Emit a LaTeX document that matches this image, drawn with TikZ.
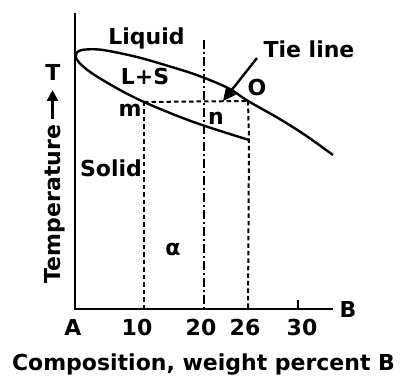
\documentclass[tikz,border=0pt]{standalone}
\usepackage{fontspec}
\setmainfont{DejaVu Sans}
\usetikzlibrary{arrows.meta}
\begin{document}
\begin{tikzpicture}[x=1pt,y=-1pt,
  lbl/.style={anchor=base,inner sep=0pt,font=\fontsize{22}{26}\selectfont\bfseries},
  axisline/.style={line width=2.6pt},
  curve/.style={line width=2.4pt},
  dashln/.style={line width=2pt,dash pattern=on 4.5pt off 3pt},
  dashdot/.style={line width=2pt,dash pattern=on 9pt off 3pt on 2pt off 3pt}]
\useasboundingbox (0,0) rectangle (403,379);
% axes
\coordinate (top) at (75,13);
\coordinate (orig) at (75,309);
\coordinate (xend) at (333,309);
\draw[axisline] (top) -- (orig) -- (xend);
\coordinate (t30a) at (298,309);
\coordinate (t30b) at (298,300);
\draw[line width=2pt] (t30a) -- (t30b);
% key points
\coordinate (tip) at (75.5,57);
\coordinate (m) at (144,102);
\coordinate (o) at (248,101);
\coordinate (send) at (249,140);
\coordinate (m0) at (144,309);
\coordinate (o0) at (248,309);
\coordinate (d1) at (204,40);
\coordinate (d0) at (204,309);
% liquidus
\draw[curve] plot[smooth,tension=0.55] coordinates {(tip) (78,51.5) (86,49.5) (103,50) (137,57) (170,66.5) (198,75.5) (228,88) (o) (278,118) (305,135) (333,155)};
% solidus
\draw[curve] plot[smooth,tension=0.55] coordinates {(tip) (80,63.5) (93,74) (120,90) (m) (175,115) (205,126) (send)};
% dashed lines
\draw[dashln] (m) -- (o);
\draw[dashln] (m) -- (m0);
\draw[dashln] (o) -- (send) -- (o0);
\draw[dashdot] (d1) -- (d0);
% tie line arrow
\coordinate (arrs) at (257,58);
\coordinate (arre) at (223,101);
\draw[line width=2.4pt,-{Triangle[length=13pt,width=12pt]}] (arrs) -- (arre);
% labels
\node[lbl] (liq) at (146.5,45) {Liquid};
\node[lbl] (tie) at (309,58) {Tie line};
\node[lbl] (ls) at (145,85) {L+S};
\node[lbl] (lo) at (257,96) {O};
\node[lbl] (lm) at (130,117) {m};
\node[lbl] (ln) at (216,125) {n};
\node[lbl] (sol) at (111,176) {Solid};
\node[lbl] (alpha) at (173,255) {α};
\node[lbl] (la) at (73,335) {A};
\node[lbl] (l10) at (137,335) {10};
\node[lbl] (l20) at (201,335) {20};
\node[lbl] (l26) at (245,335) {26};
\node[lbl] (l30) at (302,335) {30};
\node[lbl] (lb) at (348,317) {B};
\node[lbl] (comp) at (203.5,370) {Composition, weight percent B};
\node[lbl] (lt) at (53,81) {T};
\node[lbl,rotate=90] (temp) at (60,204) {Temperature};
\coordinate (ta0) at (52.5,119);
\coordinate (ta1) at (52.5,90);
\draw[line width=2.4pt,-{Triangle[length=11pt,width=11pt]}] (ta0) -- (ta1);
\end{tikzpicture}
\end{document}
